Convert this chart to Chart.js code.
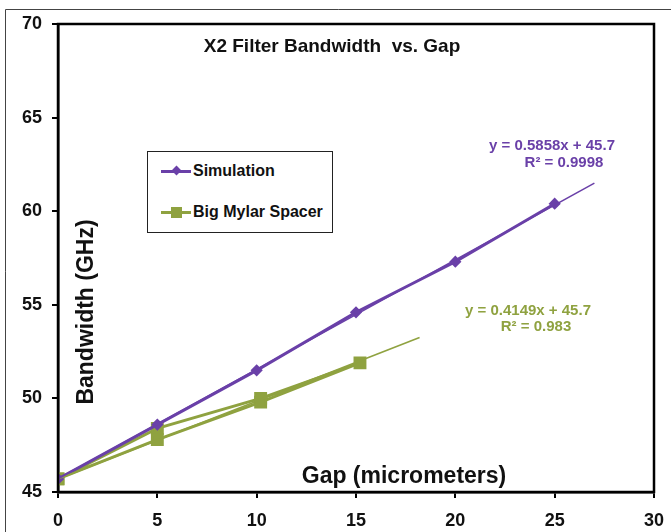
<!DOCTYPE html>
<html>
<head>
<meta charset="utf-8">
<script src="https://cdn.jsdelivr.net/npm/chart.js@4"></script>
<style>
  body { margin: 0; background: #fff; }
  #wrap { position: relative; width: 671px; height: 532px; }
  #legend {
    position: absolute; left: 147px; top: 151px; width: 184px; height: 80px;
    border: 1px solid #222; background: #fff;
    font: bold 16px "Liberation Sans", Arial, sans-serif; color: #111;
  }
  .item { position: absolute; left: 13px; display: flex; align-items: center; }
  .swatch { position: relative; width: 30px; height: 3px; margin-right: 2px; }
  .mark { position: absolute; left: 12px; }
</style>
</head>
<body>
<div id="wrap">
  <canvas id="bwChart" width="671" height="532"></canvas>
  <div id="legend">
    <div class="item" style="top:10px">
      <div class="swatch" style="background:#6a40a8">
        <div class="mark" style="top:-3px;width:7px;height:7px;background:#6a40a8;transform:rotate(45deg)"></div>
      </div>Simulation
    </div>
    <div class="item" style="top:51px">
      <div class="swatch" style="background:#8fa240">
        <div class="mark" style="top:-4px;left:10px;width:11px;height:11px;background:#8fa240"></div>
      </div>Big Mylar Spacer
    </div>
  </div>
</div>
<script>
// ---------- DATA ----------
const simGap = [0, 5, 10, 15, 20, 25];
const simBw = [45.7, 48.6, 51.5, 54.6, 57.3, 60.4];

// measured points, in the order they were joined
const mylarGap = [0, 5, 10.2, 15.2, 10.2, 5, 0];
const mylarBw = [45.7, 48.4, 50.0, 51.9, 49.8, 47.8, 45.7];

// trendline ends
const simTrendGap = [0, 27];
const simTrendBw = [45.7, 61.5];
const mylarTrendGap = [0, 18.2];
const mylarTrendBw = [45.7, 53.25];

const xTicks = [0, 5, 10, 15, 20, 25, 30];
const yTicks = [45, 50, 55, 60, 65, 70];

const PURPLE = "#6a40a8";
const GREEN = "#8fa240";
const FONT = '"Liberation Sans", Arial, sans-serif';

const pts = (xs, ys) => xs.map((x, i) => ({ x: x, y: ys[i] }));

// ---------- TEXT INSIDE THE PLOT ----------
const overlay = {
  id: "overlay",
  beforeDraw(chart) {
    const c = chart.ctx;
    c.save();
    c.strokeStyle = "#444";
    c.lineWidth = 1;
    c.beginPath();
    c.moveTo(5.5, 700);
    c.lineTo(5.5, 9.5);
    c.lineTo(700, 9.5);
    c.stroke();
    c.restore();
  },
  afterDraw(chart) {
    const c = chart.ctx;
    const a = chart.chartArea;
    c.save();
    c.strokeStyle = "#000";
    c.lineWidth = 2.5;
    c.strokeRect(a.left, a.top, a.right - a.left, a.bottom - a.top);

    c.textAlign = "center";
    c.textBaseline = "middle";
    c.fillStyle = "#111";
    c.font = "bold 19px " + FONT;
    c.fillText("X2 Filter Bandwidth  vs. Gap", 332, 47);
    c.font = "bold 23px " + FONT;
    c.fillText("Gap (micrometers)", 404, 477);
    c.save();
    c.translate(87, 312);
    c.rotate(-Math.PI / 2);
    c.fillText("Bandwidth (GHz)", 0, 0);
    c.restore();

    c.font = "bold 15px " + FONT;
    c.fillStyle = PURPLE;
    c.fillText("y = 0.5858x + 45.7", 552, 146);
    c.fillText("R\u00b2 = 0.9998", 564, 163);
    c.fillStyle = GREEN;
    c.fillText("y = 0.4149x + 45.7", 528, 311);
    c.fillText("R\u00b2 = 0.983", 536, 327);
    c.restore();
  },
};

// ---------- CREATE CHART ----------
const ctx = document.getElementById("bwChart").getContext("2d");

new Chart(ctx, {
  type: "scatter",
  data: {
    datasets: [
      {
        label: "Simulation trend",
        data: pts(simTrendGap, simTrendBw),
        showLine: true,
        borderColor: PURPLE,
        borderWidth: 1.6,
        pointRadius: 0,
      },
      {
        label: "Big Mylar Spacer trend",
        data: pts(mylarTrendGap, mylarTrendBw),
        showLine: true,
        borderColor: GREEN,
        borderWidth: 1.6,
        pointRadius: 0,
      },
      {
        label: "Simulation",
        data: pts(simGap, simBw),
        showLine: true,
        borderColor: PURPLE,
        backgroundColor: PURPLE,
        borderWidth: 3,
        pointStyle: "rectRot",
        pointRadius: 4,
      },
      {
        label: "Big Mylar Spacer",
        data: pts(mylarGap, mylarBw),
        showLine: true,
        borderColor: GREEN,
        backgroundColor: GREEN,
        borderWidth: 3,
        pointStyle: "rect",
        pointRadius: 7,
      },
    ],
  },
  options: {
    responsive: false,
    animation: false,
    layout: { padding: { left: 0, top: 24, right: 17, bottom: 0 } },
    scales: {
      x: {
        type: "linear",
        min: 0,
        max: 30,
        afterBuildTicks: (s) => { s.ticks = xTicks.map((v) => ({ value: v })); },
        afterFit: (s) => { s.height = 40; s.paddingLeft = 0; s.paddingRight = 0; },
        grid: { drawOnChartArea: false, drawTicks: true, tickLength: 6, color: "#000", lineWidth: 2 },
        border: { color: "#000", width: 2.5 },
        ticks: { color: "#111", padding: 12, font: { family: FONT, size: 18, weight: "bold" } },
      },
      y: {
        type: "linear",
        min: 45,
        max: 70,
        afterBuildTicks: (s) => { s.ticks = yTicks.map((v) => ({ value: v })); },
        afterFit: (s) => { s.width = 58; s.paddingTop = 0; s.paddingBottom = 0; },
        grid: { drawOnChartArea: false, drawTicks: true, tickLength: 6, color: "#000", lineWidth: 2 },
        border: { color: "#000", width: 2.5 },
        ticks: { color: "#111", padding: 10, font: { family: FONT, size: 18, weight: "bold" } },
      },
    },
    plugins: {
      legend: { display: false },
      tooltip: { enabled: false },
    },
  },
  plugins: [overlay],
});
</script>
</body>
</html>
